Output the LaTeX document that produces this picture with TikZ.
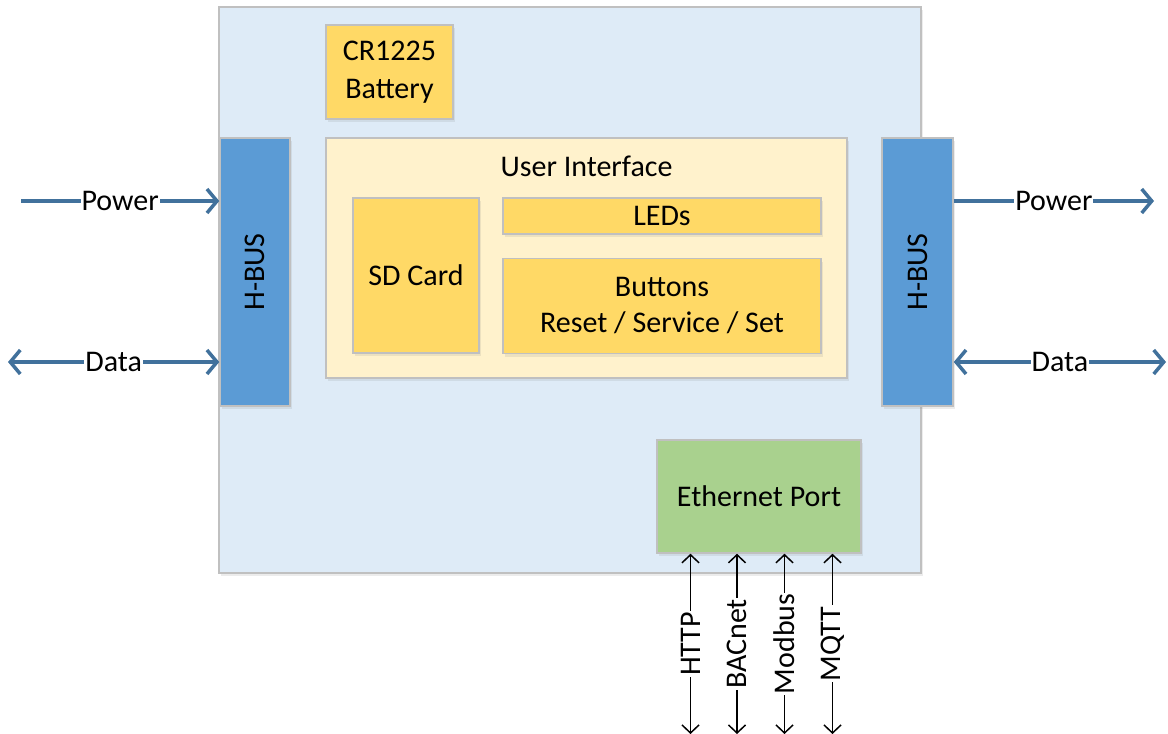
\documentclass[tikz,border=0pt]{standalone}
\usepackage{fontspec}
\setmainfont{Carlito}
\usetikzlibrary{arrows.meta,shadows}
\definecolor{mainbg}{HTML}{DEEBF7}
\definecolor{busblue}{HTML}{5B9BD5}
\definecolor{gold}{HTML}{FFD966}
\definecolor{cream}{HTML}{FFF2CC}
\definecolor{green}{HTML}{A9D18E}
\definecolor{arrowblue}{HTML}{41719C}
\definecolor{edge}{HTML}{C0C0C0}
\tikzset{
  blk/.style={draw=edge, line width=1.5pt, inner sep=0pt, align=center,
    font=\fontsize{30}{37.5}\selectfont,
    drop shadow={shadow xshift=2pt, shadow yshift=-3pt, opacity=0.15, fill=gray}},
  busline/.style={draw=arrowblue, line width=3.5pt},
  bustip/.style={-{Straight Barb[length=10pt,width=24pt,line width=3.5pt]}},
  busboth/.style={{Straight Barb[length=10pt,width=24pt,line width=3.5pt]}-{Straight Barb[length=10pt,width=24pt,line width=3.5pt]}},
  proto/.style={draw=black, line width=1.5pt,
    {Straight Barb[length=8pt,width=17pt,line width=1.5pt]}-{Straight Barb[length=8pt,width=17pt,line width=1.5pt]}},
  lbl/.style={fill=white, inner sep=1pt, font=\fontsize{30}{36}\selectfont, text=black},
  txt/.style={font=\fontsize{30}{36}\selectfont, inner sep=0pt}
}
\begin{document}
\begin{tikzpicture}[x=1pt,y=-1pt]
\useasboundingbox (0,0) rectangle (1168,734);
% main enclosure
\node[blk, fill=mainbg, minimum width=702pt, minimum height=566pt] (main) at (570,290) {};
% battery
\node[blk, fill=gold, minimum width=127pt, minimum height=94pt] (bat) at (389.5,72) {CR1225\\Battery};
% user interface
\node[blk, fill=cream, minimum width=521pt, minimum height=240pt] (ui) at (586.5,258) {};
\node[txt] (uit) at (586.5,166) {User Interface};
\node[blk, fill=gold, minimum width=126pt, minimum height=155pt] (sd) at (416,275.5) {SD Card};
\node[blk, fill=gold, minimum width=318pt, minimum height=36pt] (led) at (662,216) {LEDs};
\node[blk, fill=gold, minimum width=318pt, minimum height=95pt, font=\fontsize{30}{36}\selectfont] (btn) at (662,306) {Buttons\\Reset / Service / Set};
% H-BUS
\node[blk, fill=busblue, minimum width=70pt, minimum height=268pt] (lbus) at (255,272) {};
\node[txt, rotate=90] (lbust) at (lbus.center) {H-BUS};
\node[blk, fill=busblue, minimum width=71pt, minimum height=268pt] (rbus) at (917.5,272) {};
\node[txt, rotate=90] (rbust) at (rbus.center) {H-BUS};
% ethernet
\node[blk, fill=green, minimum width=204pt, minimum height=113pt] (eth) at (759,496.5) {Ethernet Port};
% free ends
\coordinate (lpw) at (21,201);
\coordinate (ldt) at (8,362);
\coordinate (rpw) at (1154,201);
\coordinate (rdt) at (1166,362);
\coordinate (b1) at (690.5,734);
\coordinate (b2) at (737,734);
\coordinate (b3) at (784.5,734);
\coordinate (b4) at (832.5,734);
% bus connectors
\draw[busline, bustip] (lpw) -- (lbus.west |- lpw) node[lbl, midway] {Power};
\draw[busline, busboth] (ldt) -- (lbus.west |- ldt) node[lbl, midway] {Data};
\draw[busline, bustip] (rbus.east |- rpw) -- (rpw) node[lbl, midway] {Power};
\draw[busline, busboth] (rbus.east |- rdt) -- (rdt) node[lbl, midway] {Data};
% protocol connectors
\draw[proto] (eth.south -| b1) -- (b1) node[lbl, midway, rotate=90] {HTTP};
\draw[proto] (eth.south -| b2) -- (b2) node[lbl, midway, rotate=90] {BACnet};
\draw[proto] (eth.south -| b3) -- (b3) node[lbl, midway, rotate=90] {Modbus};
\draw[proto] (eth.south -| b4) -- (b4) node[lbl, midway, rotate=90] {MQTT};
\end{tikzpicture}
\end{document}
